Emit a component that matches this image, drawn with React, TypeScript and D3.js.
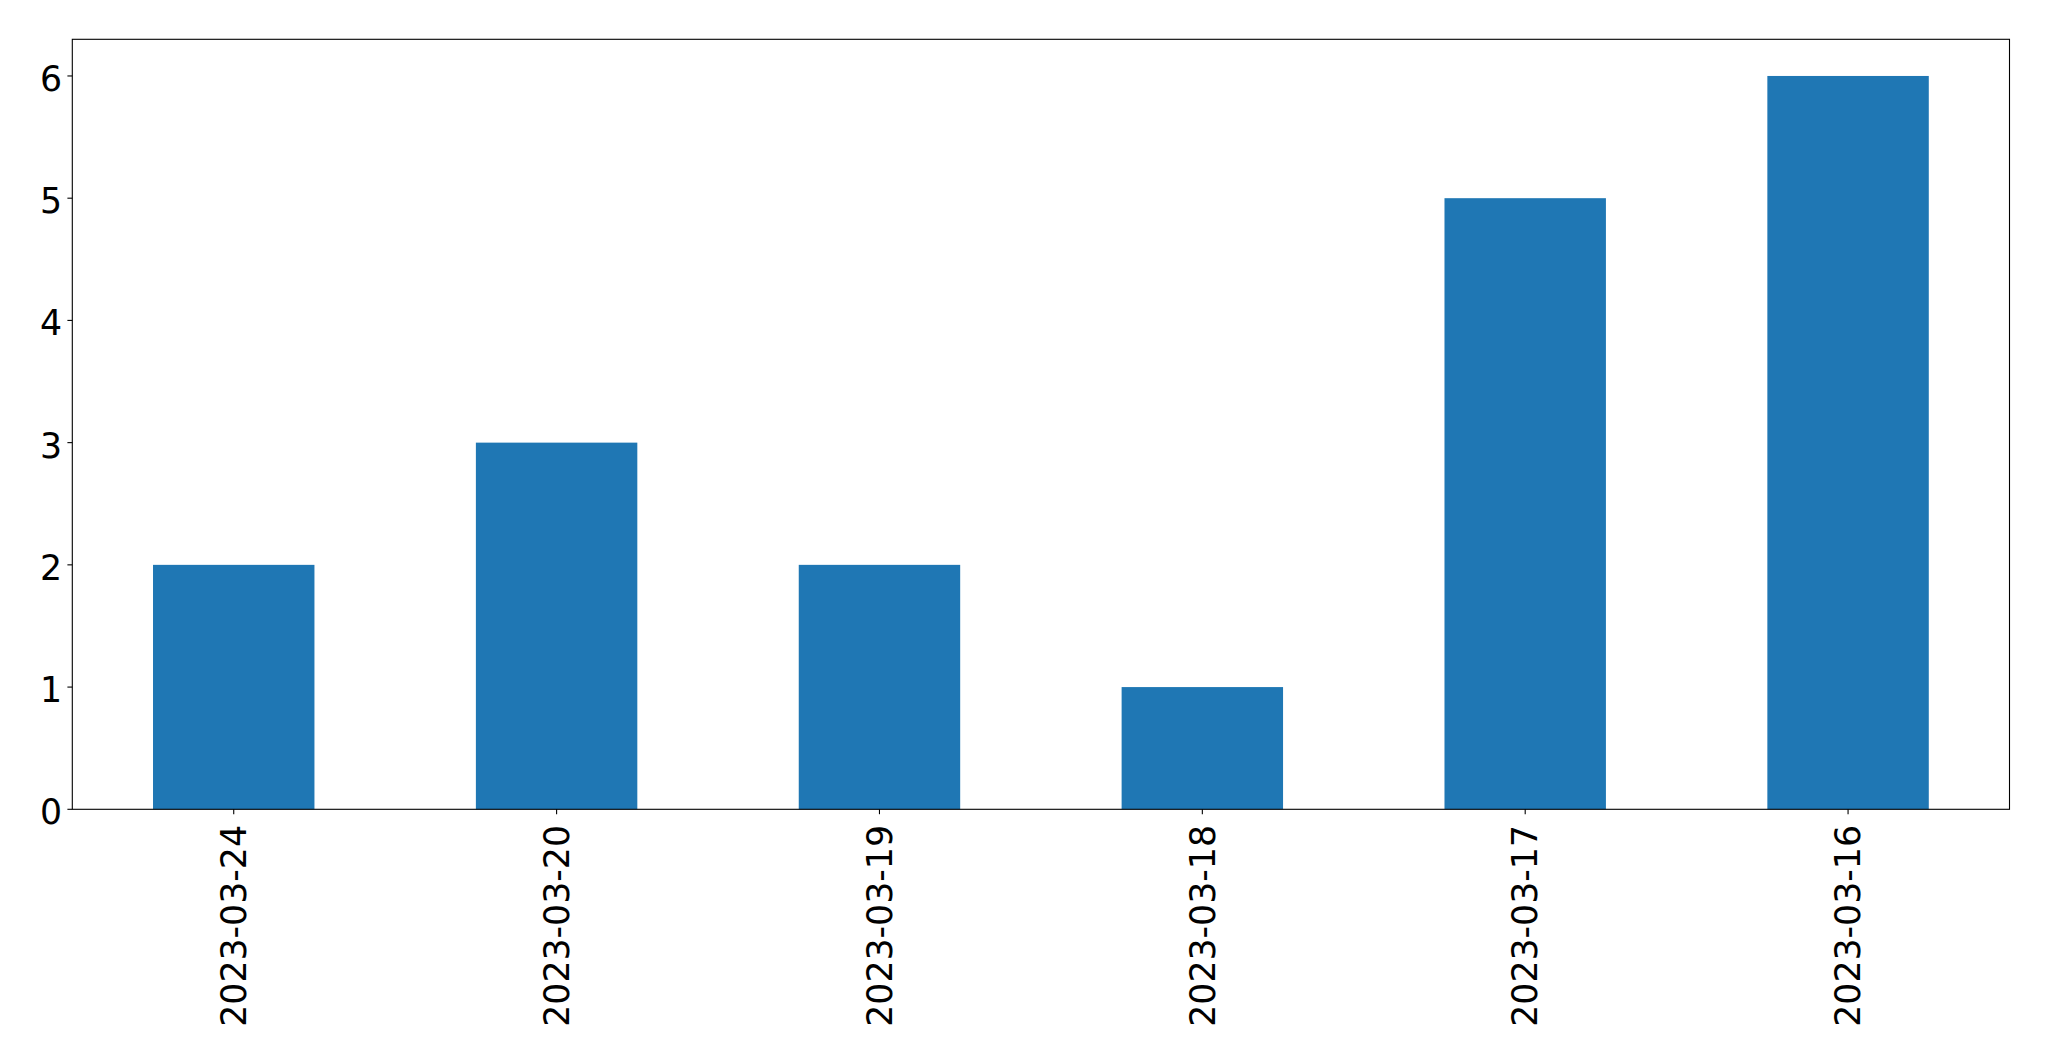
import React from "react";
import * as d3 from "d3";

const categories = ["2023-03-24", "2023-03-20", "2023-03-19", "2023-03-18", "2023-03-17", "2023-03-16"];
const counts = [2, 3, 2, 1, 5, 6];
const yTicks = [0, 1, 2, 3, 4, 5, 6];

const W = 2049;
const H = 1061;
const left = 72.3;
const right = 2009.5;
const top = 39.3;
const bottom = 809.3;
const FONT = "'DejaVu Sans', sans-serif";
const FS = 34.72;

export default function App() {
  const x = d3.scaleLinear().domain([-0.5, categories.length - 0.5]).range([left, right]);
  const y = d3.scaleLinear().domain([0, d3.max(counts)! * 1.05]).range([bottom, top]);
  const barW = 0.5;

  return (
    <svg
      width={W}
      height={H}
      style={{ position: "absolute", left: 0, top: 0, display: "block", background: "#fff" }}
    >
      <rect x={0} y={0} width={W} height={H} fill="#fff" />
      {counts.map((v, i) => (
        <rect
          key={categories[i]}
          x={x(i - barW / 2)}
          y={y(v)}
          width={x(i + barW / 2) - x(i - barW / 2)}
          height={y(0) - y(v)}
          fill="#1f77b4"
        />
      ))}
      {/* frame */}
      <rect x={left} y={top} width={right - left} height={bottom - top} fill="none" stroke="#000" strokeWidth={1.1} />
      {/* y ticks */}
      {yTicks.map((t) => (
        <g key={t}>
          <line x1={left - 4.9} x2={left} y1={y(t)} y2={y(t)} stroke="#000" strokeWidth={1.1} />
          <text x={62} y={y(t) + 15} textAnchor="end" fontFamily={FONT} fontSize={FS} fill="#000">
            {t}
          </text>
        </g>
      ))}
      {/* x ticks */}
      {categories.map((c, i) => (
        <g key={c}>
          <line x1={x(i)} x2={x(i)} y1={bottom} y2={bottom + 4.9} stroke="#000" strokeWidth={1.1} />
          <text
            transform={`translate(${x(i) + 12.2},${825}) rotate(-90)`}
            textAnchor="end"
            fontFamily={FONT}
            fontSize={FS}
            fill="#000"
          >
            {c}
          </text>
        </g>
      ))}
    </svg>
  );
}
